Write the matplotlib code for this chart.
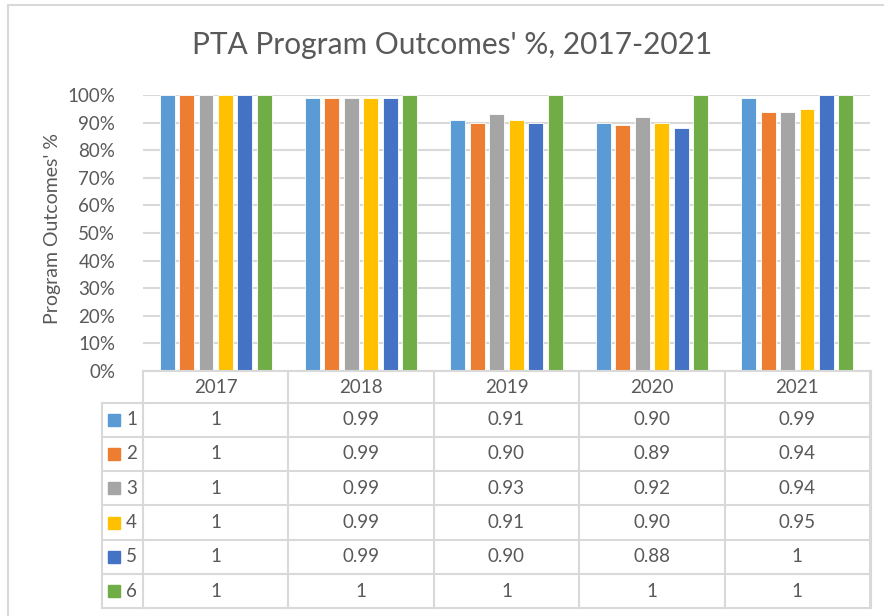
import matplotlib.pyplot as plt
from matplotlib.patches import Rectangle
import numpy as np

years = ["2017", "2018", "2019", "2020", "2021"]
series_names = ["1", "2", "3", "4", "5", "6"]
s1 = [1, 0.99, 0.91, 0.90, 0.99]
s2 = [1, 0.99, 0.90, 0.89, 0.94]
s3 = [1, 0.99, 0.93, 0.92, 0.94]
s4 = [1, 0.99, 0.91, 0.90, 0.95]
s5 = [1, 0.99, 0.90, 0.88, 1]
s6 = [1, 1, 1, 1, 1]
series = [s1, s2, s3, s4, s5, s6]
colors = ["#5B9BD5", "#ED7D31", "#A5A5A5", "#FFC000", "#4472C4", "#70AD47"]
yticks = np.arange(0, 1.01, 0.1)

plt.rcParams['font.family'] = ['Lato', 'DejaVu Sans']
txt = "#595959"
grid = "#D9D9D9"
fs = 13.5

W, H = 884, 616
fig = plt.figure(figsize=(W / 100, H / 100), dpi=100)

def box(x0, y0, x1, y1):
    # pixel box (top-left origin) -> figure fraction
    return [x0 / W, 1 - y1 / H, (x1 - x0) / W, (y1 - y0) / H]

# chart border
fig.patches.append(Rectangle((8 / W, -0.1), 1.2, 1 - 5 / H + 0.1, transform=fig.transFigure,
                             fill=False, edgecolor=grid, lw=1.5))

fig.text(452 / W, 1 - 45 / H, "PTA Program Outcomes' %, 2017-2021", ha="center", va="center",
         fontsize=21.5, color=txt)

# bar axes
px_l, px_r = 143, 870
ax = fig.add_axes(box(px_l, 95, px_r, 371))
x = np.arange(len(years))
step, bw = 0.1335, 0.103
for i, (vals, c) in enumerate(zip(series, colors)):
    ax.bar(x + (i - 2.5) * step, vals, bw, color=c, edgecolor="white", lw=0.6, zorder=3)
ax.set_xlim(-0.5, 4.5)
ax.set_ylim(0, 1)
ax.set_yticks(yticks)
ax.set_yticklabels([f"{int(round(t * 100))}%" for t in yticks], fontsize=fs, color=txt)
ax.tick_params(axis="y", length=0, pad=20)
ax.set_xticks([])
for sp in ax.spines.values():
    sp.set_visible(False)
ax.yaxis.grid(True, color=grid, lw=1.5, zorder=0)
ax.set_axisbelow(True)
fig.text(53 / W, 1 - 229 / H, "Program Outcomes' %", rotation=90, ha="center", va="center",
         fontsize=14, color=txt)

# data table
unit = (px_r - px_l) / 5.0
tl, tr = 102, 871
ty0, th, rh = 371, 31.5, 34.3
tax = fig.add_axes(box(tl, ty0, tr, ty0 + th + 6 * rh))
x_left = -0.5 - (px_l - tl) / unit
tax.set_xlim(x_left, 4.5 + (tr - px_r) / unit)
total = th + 6 * rh
tax.set_ylim(total, 0)
tax.axis("off")
lc = dict(color=grid, lw=1.5, clip_on=False)
# header row
tax.plot([-0.5, tax.get_xlim()[1]], [0, 0], **lc)
for k in range(6):
    tax.plot([k - 0.5, k - 0.5], [0, total], **lc)
tax.plot([tax.get_xlim()[1]] * 2, [0, total], **lc)
tax.plot([x_left, x_left], [th, total], **lc)
for r in range(7):
    yy = th + r * rh
    tax.plot([x_left, tax.get_xlim()[1]], [yy, yy], **lc)
for j, yr in enumerate(years):
    tax.text(j, th / 2 + 1, yr, ha="center", va="center", fontsize=fs, color=txt)
for r, (name, vals, c) in enumerate(zip(series_names, series, colors)):
    yc = th + (r + 0.5) * rh
    tax.add_patch(Rectangle((x_left + 6 / unit, yc - 6), 12 / unit, 12, color=c, clip_on=False))
    tax.text(x_left + 24 / unit, yc, name, ha="left", va="center", fontsize=fs, color=txt)
    for j, v in enumerate(vals):
        s = "1" if v == 1 else f"{v:.2f}"
        tax.text(j, yc, s, ha="center", va="center", fontsize=fs, color=txt)

fig.savefig("out.png", dpi=100)
